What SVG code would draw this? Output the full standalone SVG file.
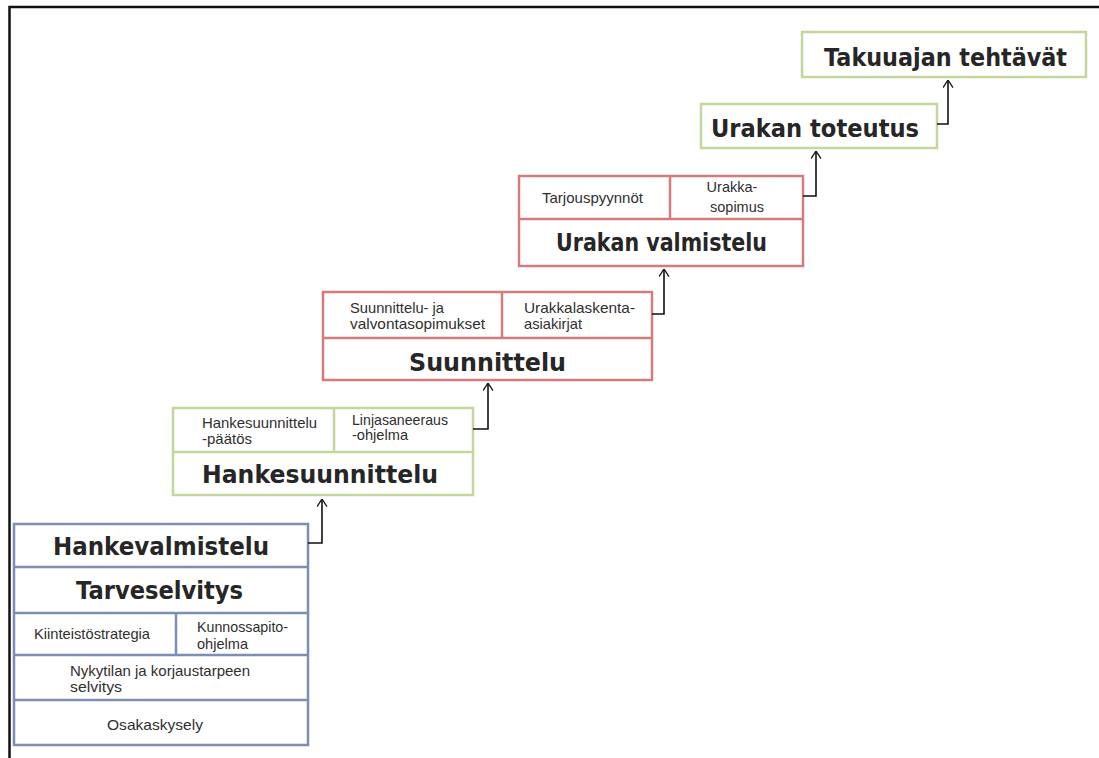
<svg xmlns="http://www.w3.org/2000/svg" width="1099" height="758" viewBox="0 0 1099 758">
<style>
.frame{fill:none;stroke:#111;stroke-width:2.5}
.blue{fill:#fff;stroke:#7d8db3;stroke-width:2.5}
.green{fill:#fff;stroke:#c3d69b;stroke-width:2.5}
.red{fill:#fff;stroke:#d47c7c;stroke-width:2.5}
.title{font-family:"DejaVu Sans",sans-serif;font-weight:bold;font-size:24px;fill:#262626;text-anchor:middle}
.small{font-family:"Liberation Sans",Arial,sans-serif;font-size:14.5px;fill:#2f2f2f}
.mid{text-anchor:middle}
.conn{fill:none;stroke:#111;stroke-width:1.6}
</style>
<defs>
<marker id="arr" viewBox="0 0 10 12" refX="9.5" refY="6" markerWidth="9" markerHeight="11" markerUnits="userSpaceOnUse" orient="auto">
<path d="M1,0.5 L9.5,6 L1,11.5" fill="none" stroke="#111" stroke-width="1.4"/>
</marker>
</defs>
<rect width="1099" height="758" fill="#fff"/>
<path class="frame" d="M9.5,758 V7 H1099"/>

<g id="hankevalmistelu">
<rect class="blue" x="14" y="524" width="294" height="221"/>
<path class="blue" d="M14,567 H308 M14,613 H308 M14,655 H308 M14,700 H308 M176,613 V655"/>
<text class="title" x="161" y="555" textLength="216" lengthAdjust="spacingAndGlyphs">Hankevalmistelu</text>
<text class="title" x="159.5" y="599" textLength="167" lengthAdjust="spacingAndGlyphs">Tarveselvitys</text>
<text class="small" x="34" y="639" textLength="116" lengthAdjust="spacingAndGlyphs">Kiinteistöstrategia</text>
<text class="small" x="197" y="632" textLength="91" lengthAdjust="spacingAndGlyphs">Kunnossapito-</text>
<text class="small" x="197" y="649" textLength="51" lengthAdjust="spacingAndGlyphs">ohjelma</text>
<text class="small" x="70" y="676" textLength="180" lengthAdjust="spacingAndGlyphs">Nykytilan ja korjaustarpeen</text>
<text class="small" x="70" y="692" textLength="52" lengthAdjust="spacingAndGlyphs">selvitys</text>
<text class="small" x="107" y="730" textLength="96" lengthAdjust="spacingAndGlyphs">Osakaskysely</text>
</g>

<g id="hankesuunnittelu">
<rect class="green" x="173" y="408" width="300" height="87"/>
<path class="green" d="M173,452 H473 M334,408 V452"/>
<text class="small" x="202" y="428" textLength="115" lengthAdjust="spacingAndGlyphs">Hankesuunnittelu</text>
<text class="small" x="202" y="444" textLength="50" lengthAdjust="spacingAndGlyphs">-päätös</text>
<text class="small" x="352" y="425" textLength="96" lengthAdjust="spacingAndGlyphs">Linjasaneeraus</text>
<text class="small" x="352" y="440" textLength="56" lengthAdjust="spacingAndGlyphs">-ohjelma</text>
<text class="title" x="320" y="483" textLength="236" lengthAdjust="spacingAndGlyphs">Hankesuunnittelu</text>
</g>

<g id="suunnittelu">
<rect class="red" x="323" y="292" width="329" height="88"/>
<path class="red" d="M323,338 H652 M502,292 V338"/>
<text class="small" x="350" y="313" textLength="94" lengthAdjust="spacingAndGlyphs">Suunnittelu- ja</text>
<text class="small" x="350" y="329" textLength="135" lengthAdjust="spacingAndGlyphs">valvontasopimukset</text>
<text class="small" x="524" y="313" textLength="111" lengthAdjust="spacingAndGlyphs">Urakkalaskenta-</text>
<text class="small" x="524" y="329" textLength="58" lengthAdjust="spacingAndGlyphs">asiakirjat</text>
<text class="title" x="487.5" y="371" textLength="157" lengthAdjust="spacingAndGlyphs">Suunnittelu</text>
</g>

<g id="urakan-valmistelu">
<rect class="red" x="519" y="176" width="284" height="90"/>
<path class="red" d="M519,219 H803 M670,176 V219"/>
<text class="small" x="542" y="203" textLength="101" lengthAdjust="spacingAndGlyphs">Tarjouspyynnöt</text>
<text class="small mid" x="732" y="192">Urakka-</text>
<text class="small mid" x="737" y="212">sopimus</text>
<text class="title" x="661.5" y="251" textLength="211" lengthAdjust="spacingAndGlyphs">Urakan valmistelu</text>
</g>

<g id="urakan-toteutus">
<rect class="green" x="701" y="104" width="236" height="44"/>
<text class="title" x="815" y="137" textLength="208" lengthAdjust="spacingAndGlyphs">Urakan toteutus</text>
</g>

<g id="takuuajan-tehtavat">
<rect class="green" x="802" y="32" width="284" height="45"/>
<text class="title" x="945.5" y="66" textLength="243" lengthAdjust="spacingAndGlyphs">Takuuajan tehtävät</text>
</g>

<g id="connectors">
<path class="conn" d="M308,543 H322 V499" marker-end="url(#arr)"/>
<path class="conn" d="M473,429 H488 V383" marker-end="url(#arr)"/>
<path class="conn" d="M652,314 H664 V269" marker-end="url(#arr)"/>
<path class="conn" d="M803,196 H816 V151" marker-end="url(#arr)"/>
<path class="conn" d="M937,124 H948 V80" marker-end="url(#arr)"/>
</g>
</svg>
